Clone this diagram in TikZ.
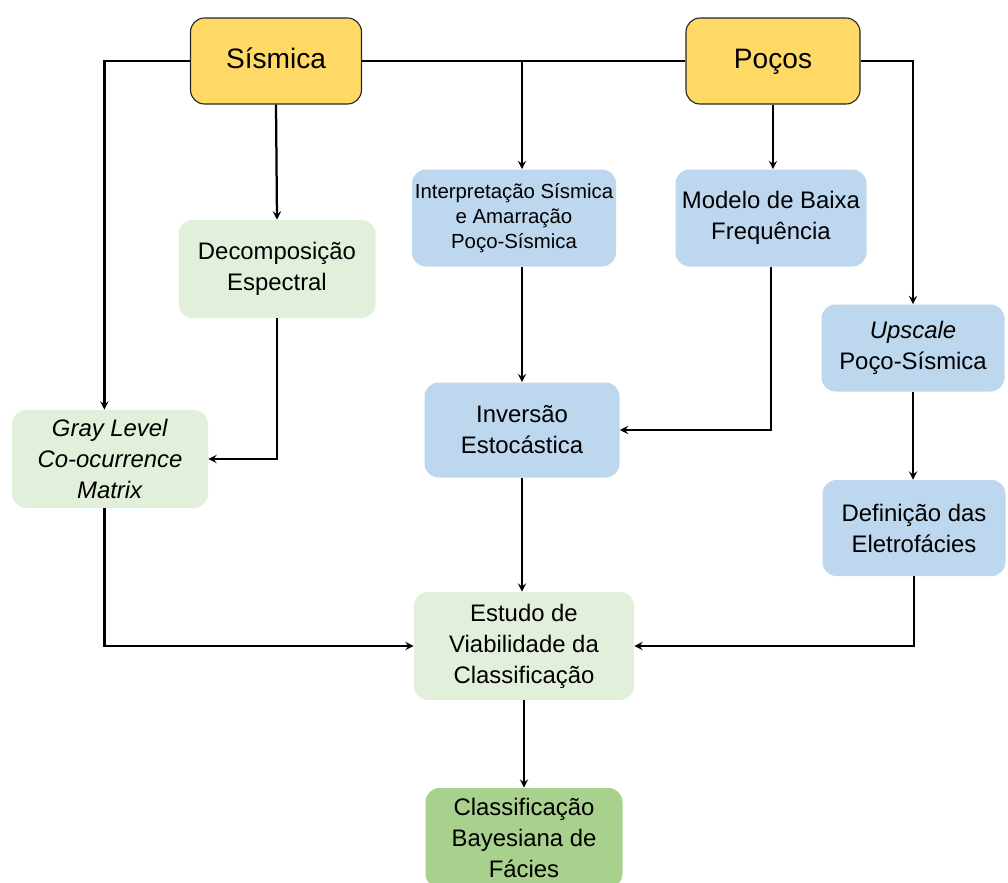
\documentclass[tikz,border=0pt]{standalone}
\usepackage{fontspec}
\setmainfont{Liberation Sans}
\usetikzlibrary{arrows}

\definecolor{ouro}{HTML}{FFD966}
\definecolor{verdeclaro}{HTML}{E2EFDA}
\definecolor{azulclaro}{HTML}{BDD7EE}
\definecolor{verdemedio}{HTML}{A9D18E}

\tikzset{
	caixa/.style={rounded corners=0.35cm, align=center, inner sep=2pt, font=\fontsize{17}{22}\selectfont},
	dado/.style={caixa, fill=ouro, draw=black!85, line width=0.8pt, font=\fontsize{20}{24}\selectfont, text height=16pt, text depth=5pt},
	sismo/.style={caixa, fill=verdeclaro},
	poco/.style={caixa, fill=azulclaro},
	final/.style={caixa, fill=verdemedio},
	fluxo/.style={line width=1.6pt, -stealth},
}

\begin{document}
\begin{tikzpicture}
	\useasboundingbox (0,0) rectangle (25.2,-22.05);
	
	\node[dado, minimum width=4.275cm, minimum height=2.15cm] (sis) at (6.9,-1.525){Sísmica};
	\node[dado, minimum width=4.35cm, minimum height=2.15cm] (poc) at (19.325,-1.525){Poços};
	
	\node[sismo, minimum width=4.925cm, minimum height=2.45cm] (dec) at (6.925,-6.725){Decomposição\\Espectral};
	\node[poco, minimum width=5.1cm, minimum height=2.425cm, font=\fontsize{14.5}{17.7}\selectfont] (interp) at (12.85,-5.45){Interpretação Sísmica\\e Amarração\\Poço-Sísmica};
	\node[poco, minimum width=4.775cm, minimum height=2.425cm] (mod) at (19.275,-5.45){Modelo de Baixa\\Frequência};
	\node[poco, minimum width=4.575cm, minimum height=2.175cm] (ups) at (22.825,-8.7){\textit{Upscale}\\Poço-Sísmica};
	
	\node[sismo, minimum width=4.9cm, minimum height=2.45cm] (glcm) at (2.75,-11.475){\textit{Gray Level}\\\textit{Co-ocurrence}\\\textit{Matrix}};
	\node[poco, minimum width=4.875cm, minimum height=2.375cm] (inv) at (13.05,-10.75){Inversão\\Estocástica};
	\node[poco, minimum width=4.575cm, minimum height=2.4cm] (def) at (22.85,-13.2){Definição das\\Eletrofácies};
	
	\node[sismo, minimum width=5.5cm, minimum height=2.7cm] (est) at (13.1,-16.15){Estudo de\\Viabilidade da\\Classificação};
	\node[final, minimum width=4.925cm, minimum height=2.5cm] (cls) at (13.1,-20.95){Classificação\\Bayesiana de\\Fácies};
	
	% ramos de cima
	\draw[fluxo] (sis.west) -| ([xshift=-4pt]glcm.north);
	\draw[line width=1.6pt] (sis.east) -- (poc.west);
	\draw[fluxo] (inv.north |- sis.east) -- (inv.north |- interp.north);
	\draw[fluxo] (poc.east) -| (ups.north);
	\draw[fluxo] (sis.south) -- (dec.north);
	\draw[fluxo] (poc.south) -- (poc.south |- mod.north);
	
	\draw[fluxo] (dec.south) |- (glcm.east);
	\draw[fluxo] (inv.north |- interp.south) -- (inv.north);
	\draw[fluxo] (mod.south) |- (inv.east);
	\draw[fluxo] (ups.south) -- (ups.south |- def.north);
	
	% para o estudo
	\draw[fluxo] ([xshift=-4pt]glcm.south) |- (est.west);
	\draw[fluxo] (inv.south) -- (inv.south |- est.north);
	\draw[fluxo] (def.south) |- (est.east);
	\draw[fluxo] (est.south) -- (cls.north);
\end{tikzpicture}
\end{document}
